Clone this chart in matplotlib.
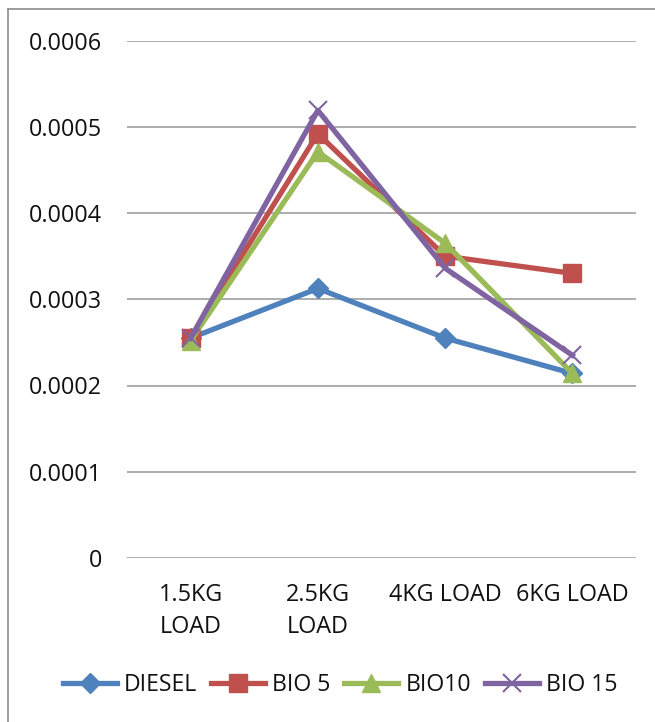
import matplotlib.pyplot as plt
from matplotlib.lines import Line2D

loads = ['1.5KG\nLOAD', '2.5KG\nLOAD', '4KG LOAD', '6KG LOAD']
diesel = [0.000255, 0.0003125, 0.000255, 0.000214]
bio5 = [0.000255, 0.000492, 0.000350, 0.000330]
bio10 = [0.000252, 0.000471, 0.000365, 0.000214]
bio15 = [0.000255, 0.000519, 0.000336, 0.000235]
yticks = [0, 0.0001, 0.0002, 0.0003, 0.0004, 0.0005, 0.0006]
ytick_labels = ['0', '0.0001', '0.0002', '0.0003', '0.0004', '0.0005', '0.0006']

plt.rcParams['font.family'] = ['Open Sans', 'DejaVu Sans']

W, H = 655, 722
fig = plt.figure(figsize=(W / 100, H / 100), dpi=100)
ax = fig.add_axes([127 / W, 1 - 558 / H, (636 - 127) / W, (558 - 40.5) / H])

x = range(len(loads))
ax.plot(x, diesel, color='#4F81BD', lw=3.8, marker='D', ms=10, label='DIESEL', zorder=3)
ax.plot(x, bio5, color='#C0504D', lw=3.8, marker='s', ms=13, label='BIO 5', zorder=4)
ax.plot(x, bio10, color='#9BBB59', lw=3.8, marker='^', ms=13, label='BIO10', zorder=5)
ax.plot(x, bio15, color='#8064A2', lw=3.8, marker='x', ms=13, mew=1.5, label='BIO 15', zorder=6)

ax.set_xlim(-0.5, 3.5)
ax.set_ylim(0, 0.0006)
ax.set_yticks(yticks)
ax.set_yticklabels(ytick_labels)
ax.set_xticks(list(x))
ax.set_xticklabels(loads, linespacing=1.45)
ax.tick_params(length=0, labelsize=16.8, colors='#111111')
ax.tick_params(axis='y', pad=18)
ax.tick_params(axis='x', pad=18)
ax.grid(axis='y', color='#A6A6A6', lw=1.3)
ax.set_axisbelow(True)
for s in ax.spines.values():
    s.set_visible(False)

# outer chart frame (only top and left edges fall inside the figure)
fig.add_artist(Line2D([8 / W, 1], [1 - 9 / H, 1 - 9 / H], color='#8C8C8C', lw=1.2))
fig.add_artist(Line2D([8 / W, 8 / W], [0, 1 - 9 / H], color='#8C8C8C', lw=1.2))

fig.legend(loc='center', bbox_to_anchor=(340 / W, 1 - 685 / H), ncol=4, frameon=False,
           fontsize=16.6, handlelength=2.35, handletextpad=0.3, columnspacing=0.6,
           labelcolor='#111111')

fig.savefig('out.png', dpi=100, facecolor='white')
